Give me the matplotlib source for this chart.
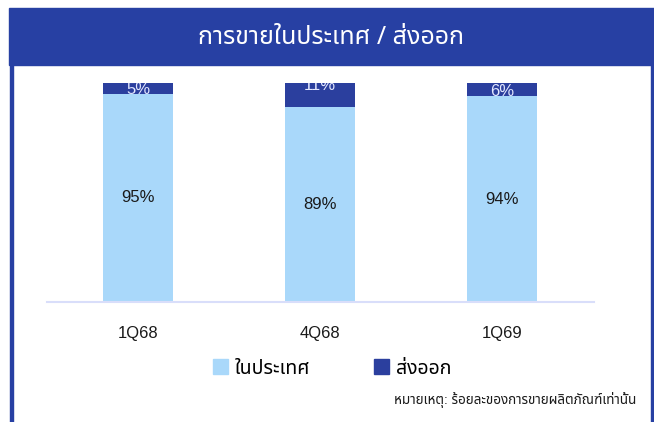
import matplotlib
matplotlib.use("Agg")
import matplotlib.pyplot as plt
from matplotlib.patches import Rectangle

# ข้อมูล
quarters = ["1Q68", "4Q68", "1Q69"]
domestic = [95, 89, 94]
export = [5, 11, 6]
series_names = ["ในประเทศ", "ส่งออก"]

title = "การขายในประเทศ / ส่งออก"
note = "หมายเหตุ: ร้อยละของการขายผลิตภัณฑ์เท่านั้น"

light = "#a9d8fa"
dark = "#2b3f9e"
navy = "#2740a3"

sans = ["Liberation Sans", "Noto Sans Thai", "DejaVu Sans"]
plt.rcParams["font.family"] = sans

fig = plt.figure(figsize=(6.54, 4.22), dpi=100)
W, H = 654, 422

def px(x0, y0, w, h):
    return [x0 / W, 1 - (y0 + h) / H, w / W, h / H]

# กรอบและแถบหัวเรื่อง
fig.patches.append(Rectangle((9 / W, 1 - 65 / H), (654 - 9) / W, 57 / H,
                             transform=fig.transFigure, color=navy, zorder=0))
fig.patches.append(Rectangle((10 / W, 0), 2.5 / W, 1 - 60 / H,
                             transform=fig.transFigure, color=navy, zorder=0))
fig.patches.append(Rectangle((650.5 / W, 0), 2.5 / W, 1 - 60 / H,
                             transform=fig.transFigure, color=navy, zorder=0))
fig.text(331 / W, 1 - 38 / H, title, color="white", fontsize=18,
         ha="center", va="center", family=["Noto Sans Thai", "Liberation Sans"],
         fontweight="medium")

ax = fig.add_axes(px(47, 83, 547, 219))
x = range(len(quarters))
bw = 0.385
ax.bar(x, domestic, width=bw, color=light, zorder=2)
ax.bar(x, export, width=bw, bottom=domestic, color=dark, zorder=2)

# ป้ายส่งออกของ 4Q68 อยู่สูงกว่าแท่งอื่นในภาพต้นฉบับ
shift = [0, 7.8, 0]
for i in x:
    ax.text(i, domestic[i] / 2, f"{domestic[i]}%", ha="center", va="center",
            fontsize=12, color="#1a1a1a", zorder=3)
    t = ax.text(i, domestic[i] + shift[i], f"{export[i]}%", ha="center",
                va="baseline", fontsize=12, color="#e4e8ff", zorder=3)
    t.set_clip_on(True)

ax.set_xlim(-0.5, 2.505)
ax.set_ylim(0, 100)
ax.set_yticks([])
ax.set_xticks(list(x))
ax.set_xticklabels(quarters, fontsize=12, color="#1a1a1a")
ax.tick_params(axis="x", length=0, pad=17)
for s in ["top", "left", "right"]:
    ax.spines[s].set_visible(False)
ax.spines["bottom"].set_color("#d9defa")
ax.spines["bottom"].set_linewidth(1.5)

# คำอธิบาย
handles = [Rectangle((0, 0), 1, 1, color=light), Rectangle((0, 0), 1, 1, color=dark)]
fig.legend(handles, series_names, loc="center", bbox_to_anchor=(332 / W, 1 - 368.5 / H),
           ncol=2, frameon=False, fontsize=14, handlelength=0.78, handleheight=0.78,
           handletextpad=0.35, columnspacing=3.3)

fig.text(636 / W, 1 - 400 / H, note, ha="right", va="center", fontsize=9.7,
         color="#1a1a1a")

fig.savefig("out.png", dpi=100)
